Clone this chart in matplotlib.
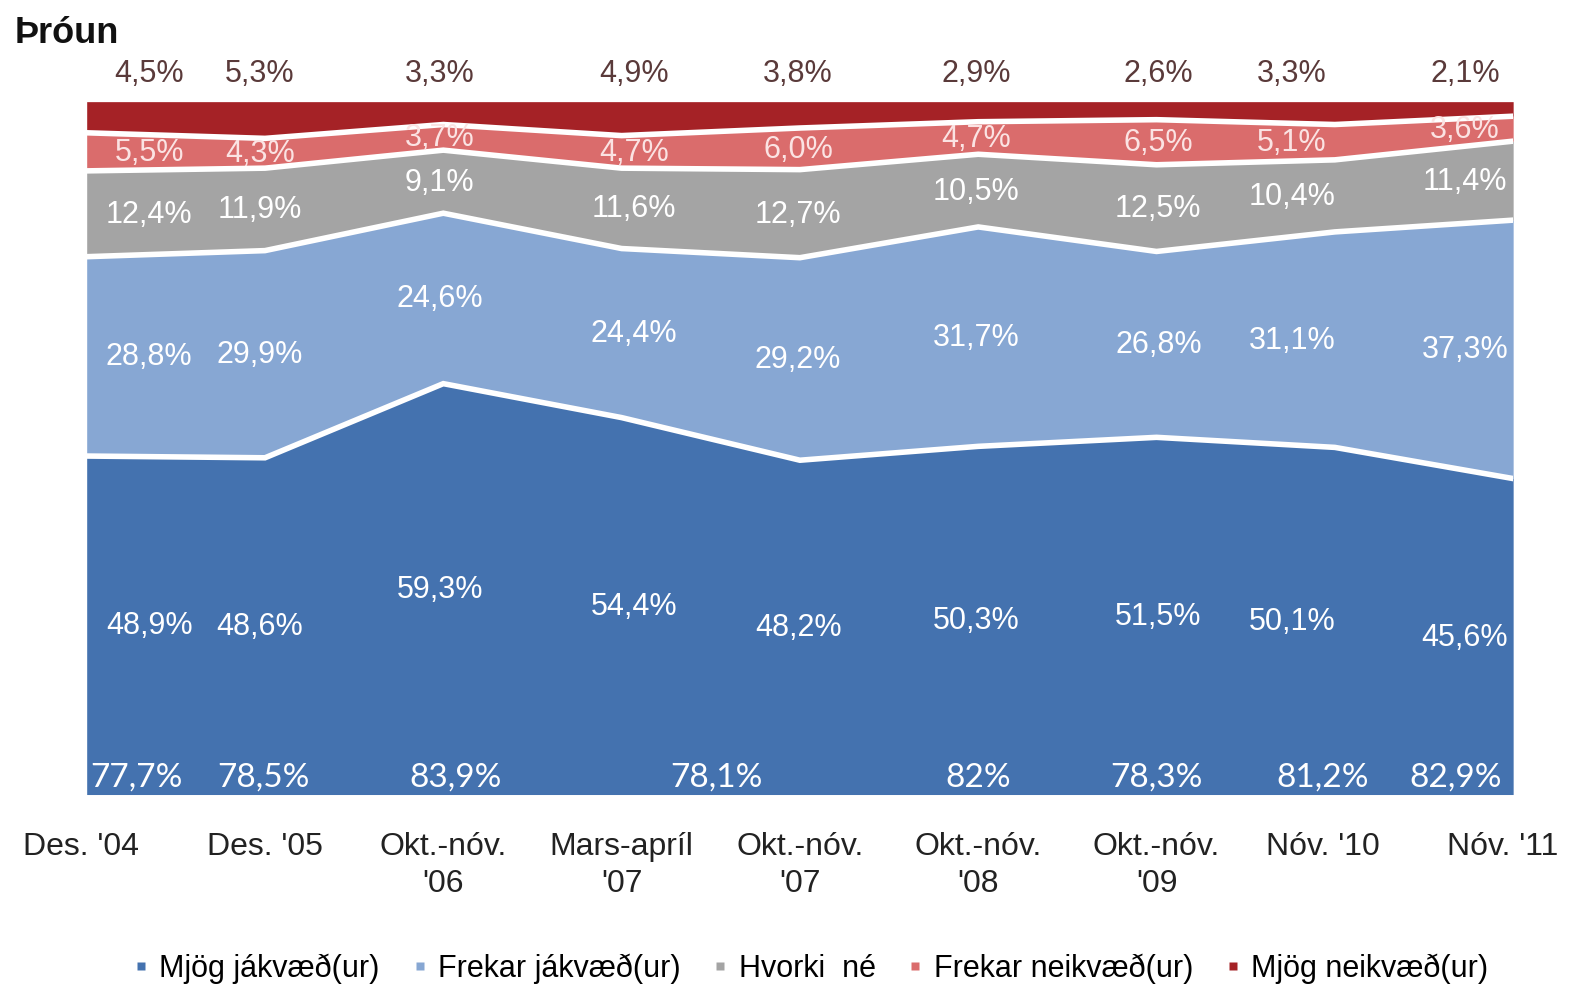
import matplotlib
matplotlib.use("Agg")
import matplotlib.pyplot as plt
from matplotlib.lines import Line2D
import matplotlib.transforms as mtransforms
import numpy as np

categories = ["Des. '04", "Des. '05", "Okt.-nóv.\n'06", "Mars-apríl\n'07",
              "Okt.-nóv.\n'07", "Okt.-nóv.\n'08", "Okt.-nóv.\n'09", "Nóv. '10", "Nóv. '11"]
series_names = ["Mjög jákvæð(ur)", "Frekar jákvæð(ur)", "Hvorki  né",
                "Frekar neikvæð(ur)", "Mjög neikvæð(ur)"]
mjog_jakv = [48.9, 48.6, 59.3, 54.4, 48.2, 50.3, 51.5, 50.1, 45.6]
frekar_jakv = [28.8, 29.9, 24.6, 24.4, 29.2, 31.7, 26.8, 31.1, 37.3]
hvorki = [12.4, 11.9, 9.1, 11.6, 12.7, 10.5, 12.5, 10.4, 11.4]
frekar_neikv = [5.5, 4.3, 3.7, 4.7, 6.0, 4.7, 6.5, 5.1, 3.6]
mjog_neikv = [4.5, 5.3, 3.3, 4.9, 3.8, 2.9, 2.6, 3.3, 2.1]
total_labels = ["77,7%", "78,5%", "83,9%", "78,1%", "82%", "78,3%", "81,2%", "82,9%"]

colors = ["#4472AF", "#87A7D3", "#A4A4A4", "#DA6C6C", "#A52226"]

narrow = ["Liberation Sans", "DejaVu Sans"]

data = np.array([mjog_jakv, frekar_jakv, hvorki, frekar_neikv, mjog_neikv])
norm = data / data.sum(axis=0) * 100
x = np.arange(len(categories))

fig = plt.figure(figsize=(15.79, 9.87), dpi=100)
ax = fig.add_axes([0.0549, 0.194, 0.9034, 0.702])
cum = np.vstack([np.zeros(len(x)), np.cumsum(norm, axis=0)])
for i in range(5):
    ax.fill_between(x, cum[i], cum[i + 1], color=colors[i], lw=0)
for i in range(1, 5):
    ax.plot(x, cum[i], color="white", lw=4, solid_joinstyle="miter")
ax.set_xlim(0, 8)
ax.set_ylim(0, 100)
for s in ax.spines.values():
    s.set_visible(False)
ax.set_yticks([])
ax.set_xticks(x)
ax.set_xticklabels(categories, family=narrow, fontsize=23, color="#222222",
                   linespacing=1.3)
ax.tick_params(axis="x", length=0, pad=26)
shifts = {0: -6, 7: -12, 8: -10}
for k, dx in shifts.items():
    lab = ax.get_xticklabels()[k]
    lab.set_transform(lab.get_transform() +
                      mtransforms.ScaledTranslation(dx / 100, 0, fig.dpi_scale_trans))

# label positions (layout)
lab_x = [0.35, 0.97, 1.98, 3.07, 3.99, 4.99, 6.01, 6.76, 7.73]
for j in range(len(x)):
    for i in range(4):
        yc = (cum[i][j] + cum[i + 1][j]) / 2
        col = "white" if i < 3 else "#FBE3E3"
        ax.text(lab_x[j], yc, f"{data[i][j]:.1f}%".replace(".", ","),
                ha="center", va="center", color=col, fontsize=22, family=narrow)
    ax.text(lab_x[j], 104.2, f"{data[4][j]:.1f}%".replace(".", ","),
            ha="center", va="center", color="#5A3A3A", fontsize=22, family=narrow,
            clip_on=False)

tot_x = [0.28, 0.99, 2.07, 3.53, 5.0, 6.0, 6.93, 7.68]
for t, px in zip(total_labels, tot_x):
    ax.text(px, 0.4, t, ha="center", va="bottom", color="white", fontsize=24,
            family=["Lato", "DejaVu Sans"])

fig.text(0.009, 0.966, "Þróun", fontsize=26, fontweight="bold",
         family=narrow, va="center", ha="left", color="#111111")

handles = [Line2D([0], [0], marker="s", color="none", markerfacecolor=c,
                  markeredgecolor="none", markersize=6) for c in colors]
fig.legend(handles, series_names, loc="center", bbox_to_anchor=(0.513, 0.018),
           ncol=5, frameon=False, prop={"family": narrow, "size": 22},
           handlelength=0.6, handletextpad=0.3, columnspacing=1.0)

fig.savefig("out.png", dpi=100)
